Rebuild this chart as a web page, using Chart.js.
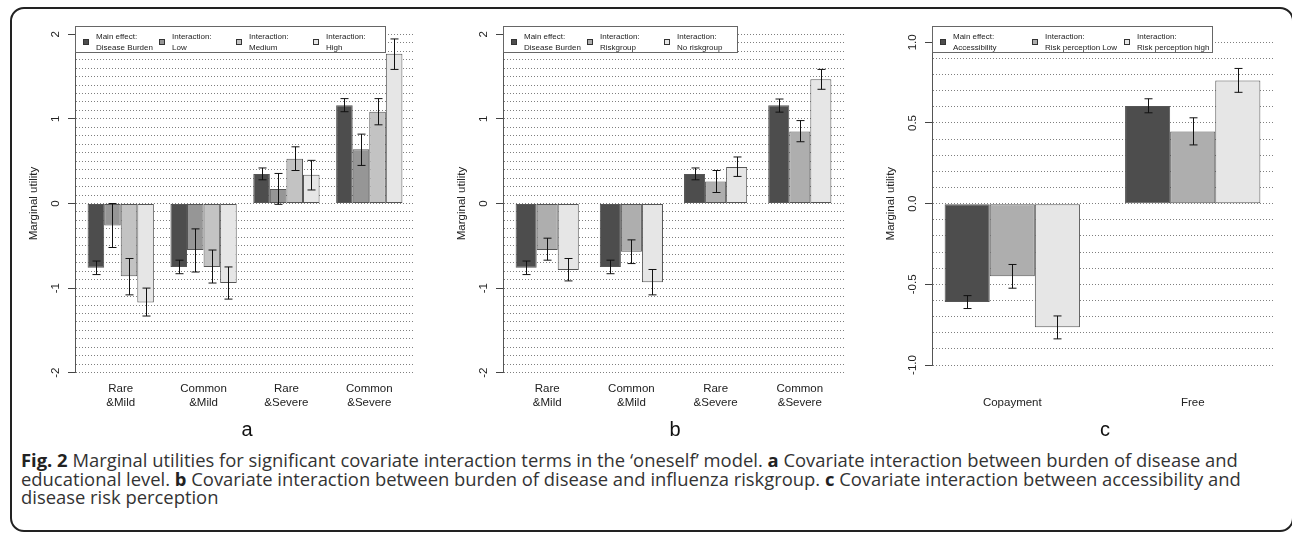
<!DOCTYPE html>
<html>
<head>
<meta charset="utf-8">
<script src="https://cdn.jsdelivr.net/npm/chart.js@4.4.0/dist/chart.umd.min.js"></script>
<style>
  html, body { margin: 0; padding: 0; background: #fff; }
  #fig { position: relative; width: 1292px; height: 536px; overflow: hidden; background: #fff; }
  #frame { position: absolute; left: 10px; top: 7px; width: 1284px; height: 525px; border: 2px solid #222; border-radius: 14px; box-sizing: border-box; }
  canvas { position: absolute; top: 8px; }
  .letter { position: absolute; top: 418px; width: 40px; text-align: center; font: 20px/22px "Liberation Sans", Arial, sans-serif; color: #111; }
  #caption { position: absolute; left: 21px; top: 451px; font: 18.4px/18.5px "Open Sans", sans-serif; color: #333; white-space: nowrap; }
  #caption b { color: #222; }
</style>
</head>
<body>
<div id="fig">
  <div id="frame"></div>
  <canvas id="panelA" width="420" height="412" style="left:12px"></canvas>
  <canvas id="panelB" width="420" height="412" style="left:440px"></canvas>
  <canvas id="panelC" width="420" height="412" style="left:868px"></canvas>
  <div class="letter" style="left:227px">a</div>
  <div class="letter" style="left:655px">b</div>
  <div class="letter" style="left:1085px">c</div>
  <div id="caption"><b>Fig. 2</b> Marginal utilities for significant covariate interaction terms in the ‘oneself’ model. <b>a</b> Covariate interaction between burden of disease and<br>educational level. <b>b</b> Covariate interaction between burden of disease and influenza riskgroup. <b>c</b> Covariate interaction between accessibility and<br>disease risk perception</div>
</div>

<script>
// categories and tick labels
const catsAB = [['Rare', '&Mild'], ['Common', '&Mild'], ['Rare', '&Severe'], ['Common', '&Severe']];
const catsC = ['Copayment', 'Free'];

const yTicksAB = [-2, -1, 0, 1, 2];
const yLabelsAB = ['-2', '-1', '0', '1', '2'];
const yTicksC = [-1, -0.5, 0, 0.5, 1];
const yLabelsC = ['-1.0', '-0.5', '0.0', '0.5', '1.0'];

// panel a: burden of disease x educational level
const legendA = [['Main effect:', 'Disease Burden'], ['Interaction:', 'Low'], ['Interaction:', 'Medium'], ['Interaction:', 'High']];
const aMain = [-0.76, -0.75, 0.35, 1.16];
const aMainLo = [-0.84, -0.83, 0.28, 1.085];
const aMainHi = [-0.68, -0.67, 0.42, 1.24];
const aLow = [-0.26, -0.55, 0.17, 0.64];
const aLowLo = [-0.52, -0.81, -0.01, 0.45];
const aLowHi = [0.0, -0.30, 0.355, 0.82];
const aMedium = [-0.86, -0.75, 0.53, 1.085];
const aMediumLo = [-1.08, -0.94, 0.39, 0.93];
const aMediumHi = [-0.65, -0.55, 0.67, 1.24];
const aHigh = [-1.17, -0.94, 0.34, 1.77];
const aHighLo = [-1.33, -1.13, 0.16, 1.585];
const aHighHi = [-1.0, -0.75, 0.51, 1.945];

// panel b: burden of disease x influenza riskgroup
const legendB = [['Main effect:', 'Disease Burden'], ['Interaction:', 'Riskgroup'], ['Interaction:', 'No riskgroup']];
const bMain = [-0.76, -0.75, 0.35, 1.16];
const bMainLo = [-0.84, -0.83, 0.28, 1.08];
const bMainHi = [-0.68, -0.67, 0.42, 1.235];
const bRisk = [-0.55, -0.57, 0.26, 0.85];
const bRiskLo = [-0.67, -0.71, 0.13, 0.73];
const bRiskHi = [-0.41, -0.43, 0.39, 0.98];
const bNoRisk = [-0.785, -0.93, 0.43, 1.47];
const bNoRiskLo = [-0.915, -1.08, 0.32, 1.35];
const bNoRiskHi = [-0.65, -0.78, 0.55, 1.585];

// panel c: accessibility x risk perception
const legendC = [['Main effect:', 'Accessibility'], ['Interaction:', 'Risk perception Low'], ['Interaction:', 'Risk perception high']];
const cMain = [-0.61, 0.605];
const cMainLo = [-0.65, 0.563];
const cMainHi = [-0.57, 0.65];
const cLow = [-0.45, 0.447];
const cLowLo = [-0.524, 0.364];
const cLowHi = [-0.377, 0.532];
const cHigh = [-0.766, 0.764];
const cHighLo = [-0.838, 0.69];
const cHighHi = [-0.696, 0.838];

const greys4 = ['#4d4d4d', '#969696', '#c3c3c3', '#e6e6e6'];
const greys3 = ['#4d4d4d', '#aeaeae', '#e6e6e6'];
const ink = '#222';
const rFamily = '"Liberation Sans", Arial, Helvetica, sans-serif';

function isLabelled(v, list) {
  return list.some(t => Math.abs(t - v) < 1e-6);
}

const errorBars = {
  id: 'errorBars',
  afterDatasetsDraw(chart) {
    const ctx = chart.ctx;
    const y = chart.scales.y;
    ctx.save();
    ctx.strokeStyle = '#111';
    ctx.lineWidth = 1;
    chart.data.datasets.forEach((ds, k) => {
      chart.getDatasetMeta(k).data.forEach((bar, i) => {
        const top = y.getPixelForValue(ds.hi[i]);
        const bot = y.getPixelForValue(ds.lo[i]);
        const x = Math.round(bar.x) + 0.5;
        ctx.beginPath();
        ctx.moveTo(x, top); ctx.lineTo(x, bot);
        ctx.moveTo(x - 4, top); ctx.lineTo(x + 4, top);
        ctx.moveTo(x - 4, bot); ctx.lineTo(x + 4, bot);
        ctx.stroke();
      });
    });
    ctx.restore();
  }
};

// rotated y tick labels, like R's default las=0
function yLabelPlugin(ticks, labels) {
  return {
    id: 'yLabels',
    afterDraw(chart) {
      const ctx = chart.ctx;
      const y = chart.scales.y;
      const x0 = chart.chartArea.left - 19;
      ctx.save();
      ctx.font = '11.5px ' + rFamily;
      ctx.fillStyle = ink;
      ctx.textAlign = 'center';
      ctx.textBaseline = 'middle';
      ticks.forEach((v, i) => {
        ctx.save();
        ctx.translate(x0, y.getPixelForValue(v));
        ctx.rotate(-Math.PI / 2);
        ctx.fillText(labels[i], 0, 0);
        ctx.restore();
      });
      ctx.restore();
    }
  };
}

function legendPlugin(items, colors, box) {
  return {
    id: 'boxLegend',
    afterDraw(chart) {
      const ctx = chart.ctx;
      const left = Math.round(chart.chartArea.left) + 0.5;
      const top = box.top + 0.5;
      ctx.save();
      ctx.fillStyle = '#fff';
      ctx.fillRect(left, top, box.width, box.height);
      ctx.strokeStyle = '#666';
      ctx.lineWidth = 1;
      ctx.strokeRect(left, top, box.width, box.height);
      ctx.font = '8px ' + rFamily;
      ctx.textBaseline = 'middle';
      ctx.textAlign = 'left';
      items.forEach((lines, i) => {
        const sx = Math.round(left + 10 + i * box.step);
        ctx.fillStyle = colors[i];
        ctx.fillRect(sx - 3, box.top + 13, 6, 6);
        ctx.strokeStyle = '#333';
        ctx.strokeRect(sx - 2.5, box.top + 13.5, 5, 5);
        ctx.fillStyle = ink;
        lines.forEach((t, j) => ctx.fillText(t, sx + 10, box.top + 11 + j * 10.3));
      });
      ctx.restore();
    }
  };
}

function makePanel(id, cfg) {
  const datasets = cfg.series.map((s, k) => ({
    label: cfg.legend[k].join(' '),
    data: s.values.map((v, i) => ({ x: i + 1, y: v })),
    lo: s.lo,
    hi: s.hi,
    backgroundColor: cfg.colors[k],
    borderColor: '#555',
    borderWidth: 1,
    borderSkipped: false,
    categoryPercentage: cfg.groupFrac,
    barPercentage: 1
  }));

  return new Chart(document.getElementById(id), {
    type: 'bar',
    data: { datasets },
    options: {
      responsive: false,
      animation: false,
      events: [],
      layout: { padding: { left: 0, right: cfg.padRight, top: cfg.padTop, bottom: 0 } },
      plugins: {
        legend: { display: false },
        tooltip: { enabled: false }
      },
      scales: {
        x: {
          type: 'linear',
          min: cfg.xMin,
          max: cfg.xMax,
          offset: false,
          grid: { display: false, drawTicks: false },
          border: { display: false },
          afterBuildTicks: ax => { ax.ticks = cfg.cats.map((c, i) => ({ value: i + 1 })); },
          afterFit: ax => { ax.height = cfg.xAxisH; },
          ticks: {
            autoSkip: false,
            maxRotation: 0,
            padding: cfg.xPad,
            color: ink,
            font: { family: rFamily, size: 11.5, lineHeight: 14 / 11.5 },
            callback: v => cfg.cats[Math.round(v) - 1]
          }
        },
        y: {
          min: cfg.yMin,
          max: cfg.yMax,
          ticks: { display: false, stepSize: 0.1 },
          grid: {
            color: 'rgba(105,105,105,0.85)',
            lineWidth: 1,
            tickLength: 7,
            tickColor: c => isLabelled(c.tick.value, cfg.yTicks) ? '#444' : 'rgba(0,0,0,0)'
          },
          border: { display: true, color: '#555', width: 1, dash: [1, 2] },
          title: {
            display: true,
            text: 'Marginal utility',
            color: ink,
            font: { family: rFamily, size: 11.5 },
            padding: { top: cfg.yAxisW - 41 - 6.9, bottom: 0 }
          },
          afterFit: ax => { ax.width = cfg.yAxisW; }
        }
      }
    },
    plugins: [errorBars, yLabelPlugin(cfg.yTicks, cfg.yLabels), legendPlugin(cfg.legend, cfg.colors, cfg.box)]
  });
}

makePanel('panelA', {
  cats: catsAB, legend: legendA, colors: greys4,
  series: [
    { values: aMain, lo: aMainLo, hi: aMainHi },
    { values: aLow, lo: aLowLo, hi: aLowHi },
    { values: aMedium, lo: aMediumLo, hi: aMediumHi },
    { values: aHigh, lo: aHighLo, hi: aHighHi }
  ],
  yMin: -2, yMax: 2, yTicks: yTicksAB, yLabels: yLabelsAB,
  xMin: 0.448, xMax: 4.552, groupFrac: 0.8,
  yAxisW: 63, padRight: 17, padTop: 26.3, xAxisH: 47.3, xPad: 9.3,
  box: { top: 18, width: 310, height: 26, step: 76.7 }
});

makePanel('panelB', {
  cats: catsAB, legend: legendB, colors: greys3,
  series: [
    { values: bMain, lo: bMainLo, hi: bMainHi },
    { values: bRisk, lo: bRiskLo, hi: bRiskHi },
    { values: bNoRisk, lo: bNoRiskLo, hi: bNoRiskHi }
  ],
  yMin: -2, yMax: 2, yTicks: yTicksAB, yLabels: yLabelsAB,
  xMin: 0.475, xMax: 4.525, groupFrac: 0.75,
  yAxisW: 63, padRight: 16, padTop: 26.3, xAxisH: 47.3, xPad: 9.3,
  box: { top: 18, width: 234, height: 26, step: 76.7 }
});

makePanel('panelC', {
  cats: catsC, legend: legendC, colors: greys3,
  series: [
    { values: cMain, lo: cMainLo, hi: cMainHi },
    { values: cLow, lo: cLowLo, hi: cLowHi },
    { values: cHigh, lo: cHighLo, hi: cHighHi }
  ],
  yMin: -1, yMax: 1, yTicks: yTicksC, yLabels: yLabelsC,
  xMin: 0.555, xMax: 2.445, groupFrac: 0.75,
  yAxisW: 64, padRight: 15, padTop: 34.3, xAxisH: 55, xPad: 31,
  box: { top: 18, width: 280, height: 26, step: 92 }
});
</script>
</body>
</html>
